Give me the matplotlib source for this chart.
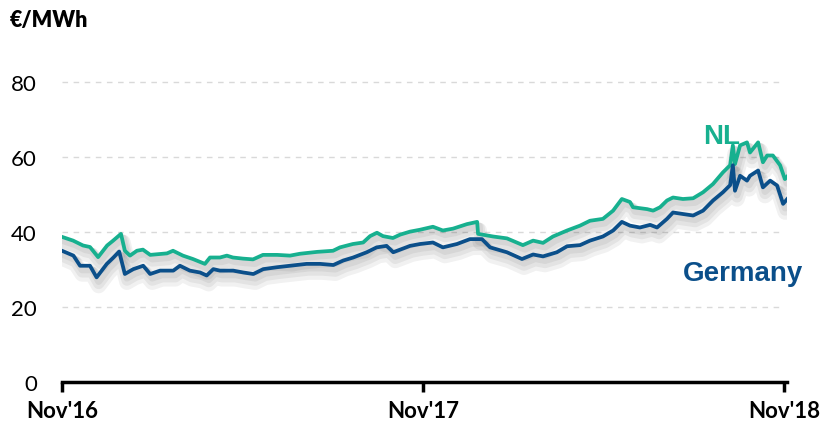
import matplotlib
matplotlib.use("Agg")
import matplotlib.pyplot as plt
import matplotlib.patheffects as pe

# months since Nov'16, values in EUR/MWh
nl_months = [0, 0.37, 0.70, 0.93, 1.20, 1.50, 1.70, 1.96, 2.09, 2.26, 2.49, 2.69, 2.93,
             3.49, 3.69, 4.02, 4.35, 4.75, 4.92, 5.25, 5.48, 5.68, 6.02, 6.35, 6.68,
             7.15, 7.58, 7.91, 8.48, 9.01, 9.24, 9.67, 10.01, 10.24, 10.47, 10.67, 11.00,
             11.24, 11.57, 11.90, 12.33, 12.66, 13.00, 13.46, 13.80, 13.83, 14.33, 14.79,
             15.32, 15.66, 15.99, 16.32, 16.79, 17.22, 17.55, 17.98, 18.32, 18.61, 18.88,
             18.98, 19.45, 19.65, 19.88, 20.11, 20.31, 20.64, 20.98, 21.31, 21.64, 21.97,
             22.21, 22.30, 22.37, 22.54, 22.77, 22.87, 23.14, 23.30, 23.44, 23.63, 23.87,
             24.03, 24.13]
nl_price = [38.7, 37.7, 36.4, 36.0, 33.3, 36.4, 37.7, 39.5, 35.0, 33.7, 35.0, 35.3, 33.9,
            34.3, 35.0, 33.7, 32.8, 31.5, 33.2, 33.2, 33.7, 33.2, 32.9, 32.7, 33.9,
            33.9, 33.7, 34.2, 34.7, 35.0, 35.9, 36.8, 37.2, 38.9, 39.8, 38.9, 38.4,
            39.3, 40.1, 40.6, 41.4, 40.4, 40.9, 42.1, 42.7, 39.5, 38.8, 38.3,
            36.5, 37.7, 37.1, 38.8, 40.4, 41.7, 43.0, 43.5, 45.7, 48.8, 48.0,
            46.6, 46.1, 45.7, 46.6, 48.4, 49.2, 48.8, 49.0, 50.6, 52.8, 55.9,
            57.8, 63.1, 58.1, 63.1, 63.9, 61.2, 63.9, 58.6, 60.4, 60.4, 57.8,
            54.1, 55.0]

de_months = [0, 0.38, 0.60, 0.93, 1.15, 1.49, 1.71, 1.90, 2.09, 2.37, 2.70, 2.93, 3.26,
             3.70, 3.92, 4.25, 4.59, 4.81, 5.03, 5.25, 5.69, 6.03, 6.36, 6.69, 7.14,
             7.58, 8.13, 8.58, 9.02, 9.35, 9.68, 10.13, 10.46, 10.79, 11.01, 11.24, 11.57,
             11.90, 12.33, 12.66, 13.13, 13.56, 13.96, 14.23, 14.79, 15.29, 15.66, 15.99,
             16.45, 16.79, 17.22, 17.55, 17.98, 18.32, 18.61, 18.88, 19.21, 19.55, 19.78,
             20.11, 20.31, 20.64, 20.98, 21.31, 21.64, 21.97, 22.21, 22.30, 22.37, 22.54,
             22.77, 22.87, 23.14, 23.30, 23.54, 23.77, 23.97, 24.13]
de_price = [35.0, 33.7, 31.0, 31.0, 27.9, 31.5, 33.2, 34.8, 28.8, 30.1, 31.0, 28.8, 29.7,
            29.7, 31.0, 29.7, 29.2, 28.4, 30.1, 29.7, 29.7, 29.2, 28.8, 30.1, 30.6,
            31.0, 31.5, 31.5, 31.2, 32.4, 33.2, 34.6, 35.9, 36.3, 34.6, 35.3, 36.3,
            36.8, 37.2, 35.9, 36.8, 38.1, 38.1, 35.9, 34.6, 32.8, 34.0, 33.5,
            34.6, 36.2, 36.5, 37.7, 38.8, 40.4, 42.7, 41.7, 41.2, 41.9, 41.2,
            43.5, 45.2, 44.8, 44.4, 45.7, 48.4, 50.6, 52.5, 57.8, 51.0, 55.0,
            53.7, 55.0, 56.4, 51.9, 53.7, 52.4, 47.5, 49.0]

tick_pos = [0, 12, 24]
tick_labels = ["Nov'16", "Nov'17", "Nov'18"]
y_ticks = [0, 20, 40, 60, 80]

nl_color = "#17b08f"
de_color = "#0b4f8a"

fig = plt.figure(figsize=(8.25, 4.31), dpi=100)
ax = fig.add_axes([62 / 825, 48 / 431, 725 / 825, 337.5 / 431])

# soft drop shadow under the lines
shadow = [pe.SimpleLineShadow(offset=(1.5, -d), shadow_color="black", alpha=0.055, linewidth=w)
          for d, w in [(3, 5), (4.5, 8), (6, 11)]] + [pe.Normal()]

ax.hlines([20, 40, 60, 80], 0, 24, colors="#d9d9d9", linestyles=(0, (4, 4)), linewidth=1, zorder=0)
ax.plot(de_months, de_price, color=de_color, linewidth=2.7, path_effects=shadow, zorder=3)
ax.plot(nl_months, nl_price, color=nl_color, linewidth=2.7, path_effects=shadow, zorder=2)

ax.set_xlim(0, 725 / 361 * 12)
ax.set_ylim(0, 90)

for s in ["top", "right", "left"]:
    ax.spines[s].set_visible(False)
ax.spines["bottom"].set_linewidth(2.5)
ax.spines["bottom"].set_bounds(0, 725 / 361 * 12)

ax.set_xticks(tick_pos)
ax.set_xticklabels(tick_labels, fontfamily="Lato", fontweight="bold", fontsize=16)
ax.tick_params(axis="x", length=7, width=2.5, pad=6)
ax.set_yticks(y_ticks)
ax.set_yticklabels([str(v) for v in y_ticks], fontfamily="Lato", fontsize=16)
ax.tick_params(axis="y", length=0, pad=18)

fig.text(10 / 825, 1 - 27 / 431, "€/MWh", fontfamily="Lato", fontweight="heavy", fontsize=15.5)
ax.text(21.32, 63.8, "NL", color=nl_color, fontfamily="Liberation Sans", fontweight="bold", fontsize=20)
ax.text(20.63, 27.2, "Germany", color=de_color, fontfamily="Liberation Sans", fontweight="bold", fontsize=20)

fig.savefig("out.png", dpi=100)
